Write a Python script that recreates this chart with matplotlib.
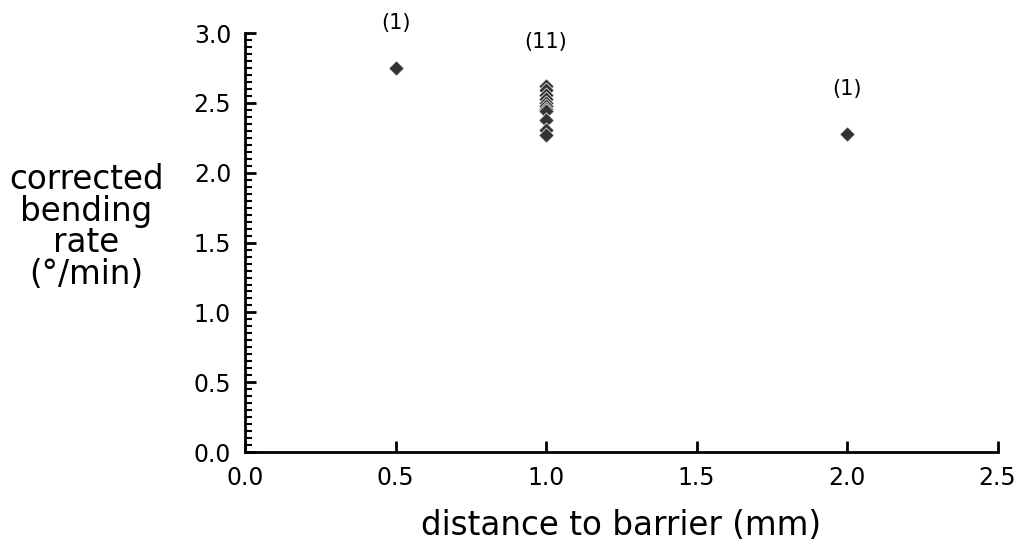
import numpy as np
import matplotlib.pyplot as plt
from matplotlib.ticker import MultipleLocator

# Data
dist_x = [0.5, 1.0, 1.0, 1.0, 1.0, 1.0, 1.0, 1.0, 1.0, 1.0, 1.0, 1.0, 2.0]
rate_y = [2.75, 2.62, 2.59, 2.56, 2.53, 2.50, 2.48, 2.46, 2.44, 2.38, 2.31, 2.27, 2.28]
group_x = [0.5, 1.0, 2.0]
group_n = ['(1)', '(11)', '(1)']
group_top = [2.75, 2.62, 2.28]

plt.rcParams['font.family'] = 'DejaVu Sans'

fig = plt.figure(figsize=(10.21, 5.44), dpi=100)
ax = fig.add_axes([0.240, 0.169, 0.737, 0.770])

ax.scatter(dist_x, rate_y, marker='D', s=60, color='#333333',
           edgecolors='white', linewidths=0.5, zorder=3, clip_on=False)

for gx, gn, gt in zip(group_x, group_n, group_top):
    ax.annotate(gn, (gx, gt), xytext=(0, 25), textcoords='offset points',
                ha='center', va='bottom', fontsize=15, annotation_clip=False)

ax.set_xlim(0, 2.5)
ax.set_ylim(0, 3.0)
ax.xaxis.set_major_locator(MultipleLocator(0.5))
ax.yaxis.set_major_locator(MultipleLocator(0.5))
ax.yaxis.set_minor_locator(MultipleLocator(0.05))
ax.xaxis.set_major_formatter(plt.FormatStrFormatter('%.1f'))
ax.yaxis.set_major_formatter(plt.FormatStrFormatter('%.1f'))

for s in ['top', 'right']:
    ax.spines[s].set_visible(False)
for s in ['left', 'bottom']:
    ax.spines[s].set_linewidth(2)

ax.tick_params(axis='both', which='major', direction='in', length=8, width=2,
               labelsize=17, pad=10)
ax.tick_params(axis='y', which='minor', direction='in', length=5, width=1.5)

ax.set_xlabel('distance to barrier (mm)', fontsize=23.5, labelpad=14)
ax.set_ylabel('corrected\nbending\nrate\n(°/min)', fontsize=23.5, rotation=0,
              ha='center', va='center', linespacing=0.95)
ax.yaxis.set_label_coords(-0.211, 0.537)

fig.savefig('out.png', dpi=100)
